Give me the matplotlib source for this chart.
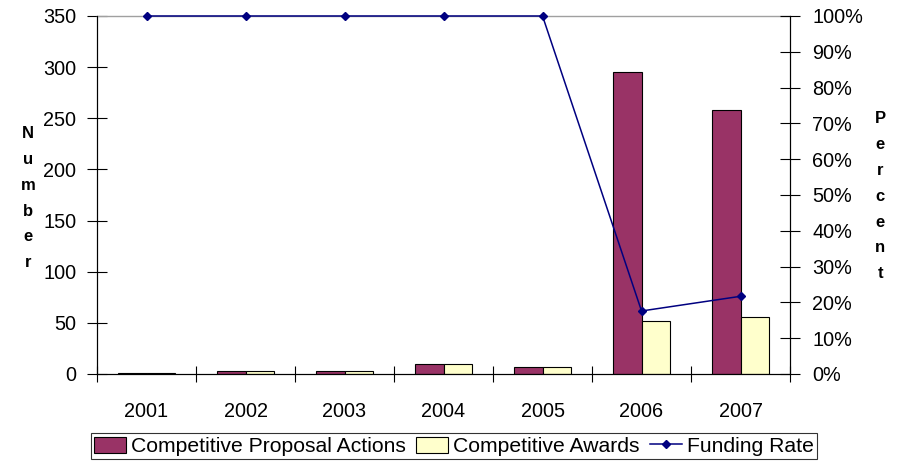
import matplotlib
matplotlib.use("Agg")
import matplotlib.pyplot as plt
import numpy as np
from matplotlib.ticker import MultipleLocator, FuncFormatter

plt.rcParams['font.family'] = ['Liberation Sans', 'DejaVu Sans']

years = ["2001", "2002", "2003", "2004", "2005", "2006", "2007"]
proposal_actions = [1, 3, 3, 10, 7, 295, 258]
awards = [1, 3, 3, 10, 7, 52, 56]
funding_rate = [100, 100, 100, 100, 100, 17.6, 21.7]

fig = plt.figure(figsize=(8.99, 4.62), dpi=100)
ax = fig.add_axes([0.1079, 0.1905, 0.7709, 0.7749])
x = np.arange(len(years))
w = 0.29

ax.bar(x - w / 2, proposal_actions, w, color="#993366", edgecolor="black", linewidth=0.8,
       label="Competitive Proposal Actions", zorder=2)
ax.bar(x + w / 2, awards, w, color="#FFFFCC", edgecolor="black", linewidth=0.8,
       label="Competitive Awards", zorder=2)

ax.set_xlim(-0.5, len(years) - 0.5)
ax.set_ylim(0, 350)
ax.yaxis.set_major_locator(MultipleLocator(50))
ax.set_xticks(x)
ax.set_xticklabels(years)
ax.set_xticks(np.arange(-0.5, len(years) + 0.5, 1), minor=True)
ax.tick_params(axis='x', which='major', length=0, pad=20, labelsize=14.3)
ax.tick_params(axis='x', which='minor', direction='inout', length=12, width=0.8)
ax.tick_params(axis='y', direction='inout', length=14, width=0.8, labelsize=14.3, pad=8)
ax.spines['top'].set_color("#a0a0a0")
ax.spines['top'].set_linewidth(1.0)
for s in ['left', 'bottom', 'right']:
    ax.spines[s].set_linewidth(0.8)

ax2 = ax.twinx()
ax2.plot(x, funding_rate, color="#000080", marker="D", markersize=4, linewidth=1.1,
         label="Funding Rate", zorder=3, clip_on=False)
ax2.set_ylim(0, 100)
ax2.yaxis.set_major_locator(MultipleLocator(10))
ax2.yaxis.set_major_formatter(FuncFormatter(lambda v, p: f"{int(round(v))}%"))
ax2.tick_params(axis='y', direction='inout', length=14, width=0.8, labelsize=14.3, pad=9)
ax2.spines['top'].set_visible(False)
ax2.spines['right'].set_linewidth(0.8)

fig.text(0.031, 0.571, "\n".join("Number"), ha="center", va="center",
         fontsize=12, fontweight="bold", linespacing=1.9)
fig.text(0.979, 0.575, "\n".join("Percent"), ha="center", va="center",
         fontsize=12, fontweight="bold", linespacing=1.9)

h1, l1 = ax.get_legend_handles_labels()
h2, l2 = ax2.get_legend_handles_labels()
leg = fig.legend(h1 + h2, l1 + l2, loc="center", bbox_to_anchor=(0.505, 0.034), ncol=3,
                 frameon=True, fancybox=False, edgecolor="black", fontsize=15.2,
                 handlelength=1.5, handleheight=0.8, handletextpad=0.25, columnspacing=0.5,
                 borderpad=0.15, borderaxespad=0)
leg.get_frame().set_linewidth(0.8)

fig.savefig("out.png", dpi=100)
